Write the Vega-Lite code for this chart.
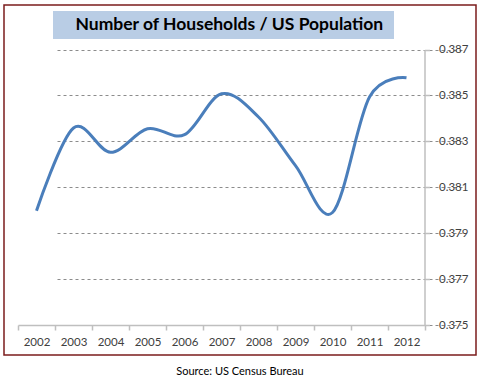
{
  "$schema": "https://vega.github.io/schema/vega-lite/v6.json",
  "width": 472,
  "height": 350,
  "autosize": {"type": "none"},
  "padding": {"left": 4, "top": 5, "right": 5, "bottom": 26},
  "background": "white",
  "title": {"text": "Source: US Census Bureau", "orient": "bottom", "anchor": "middle", "font": "Lato", "fontSize": 11, "fontWeight": "normal", "color": "#000000", "offset": 11},
  "config": {"view": {"stroke": "#7B1C1C", "strokeWidth": 1.5}},
  "data": {"values": [
    {"year": 2002, "ratio": 0.37998},
    {"year": 2003, "ratio": 0.38358},
    {"year": 2004, "ratio": 0.38252},
    {"year": 2005, "ratio": 0.38355},
    {"year": 2006, "ratio": 0.38329},
    {"year": 2007, "ratio": 0.38507},
    {"year": 2008, "ratio": 0.38406},
    {"year": 2009, "ratio": 0.38194},
    {"year": 2010, "ratio": 0.37990},
    {"year": 2011, "ratio": 0.38493},
    {"year": 2012, "ratio": 0.38577}
  ]},
  "mark": {"type": "line", "interpolate": "cardinal", "strokeWidth": 3},
  "encoding": {
    "x": {
      "field": "year", "type": "ordinal",
      "scale": {"type": "band", "paddingInner": 0, "paddingOuter": 0, "range": [14, 421]},
      "bandPosition": 0.5,
      "axis": {"title": null, "orient": "bottom", "offset": -30, "tickBand": "extent", "labelAngle": 0, "tickSize": 5, "tickColor": "#BFBFBF", "tickWidth": 1.5, "domainColor": "#BFBFBF", "domainWidth": 1.5, "labelPadding": 6, "labelFont": "Lato", "labelFontSize": 11.5, "labelColor": "#404040", "grid": false}
    },
    "y": {
      "field": "ratio", "type": "quantitative",
      "scale": {"domain": [0.375, 0.387], "range": [320, 44.5], "nice": false, "zero": false},
      "axis": {"title": null, "orient": "right", "offset": -51.5, "values": [0.375, 0.377, 0.379, 0.381, 0.383, 0.385, 0.387], "format": ".3f", "grid": true, "gridDash": [3, 3], "gridColor": "#8C8C8C", "gridWidth": 1, "domainColor": "#BFBFBF", "domainWidth": 1.5, "tickColor": "#BFBFBF", "tickWidth": 1.5, "tickSize": 5, "labelPadding": 9, "labelFont": "Lato", "labelFontSize": 11.5, "labelColor": "#404040"}
    },
    "color": {
      "datum": "Number of Households  / US Population",
      "scale": {"range": ["#4A7EBB"]},
      "legend": {"orient": "none", "legendX": 49, "legendY": 6, "title": null, "fillColor": "#B9CDE5", "padding": 5, "labelFont": "Lato", "labelFontSize": 17.5, "labelFontWeight": "bold", "labelColor": "#000000", "labelLimit": 600, "labelOffset": 0, "symbolSize": 0, "symbolStrokeWidth": 0, "symbolOpacity": 0, "symbolType": "circle"}
    }
  }
}
